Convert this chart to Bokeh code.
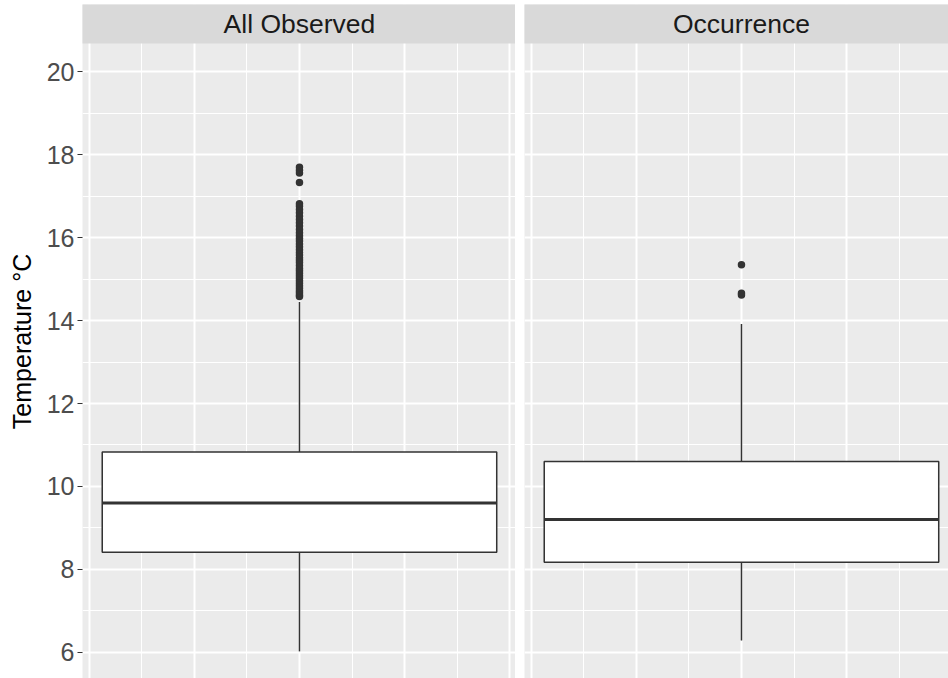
from bokeh.plotting import figure
from bokeh.layouts import row
from bokeh.models import FixedTicker, Range1d
from bokeh.embed import file_html
from bokeh.resources import INLINE
from bokeh.core.properties import value

# Five-number summaries of temperature (ºC) per facet
panels = ["All Observed", "Occurrence"]
whisker_low = [6.02, 6.28]
q1 = [8.41, 8.17]
median = [9.60, 9.20]
q3 = [10.83, 10.60]
whisker_high = [14.45, 13.92]

# Outlying observations beyond the upper whisker
outliers_all = [14.58, 14.62, 14.67, 14.72, 14.78, 14.84, 14.90, 14.96, 15.02,
                15.08, 15.14, 15.20, 15.26, 15.33, 15.40, 15.46, 15.52, 15.58,
                15.64, 15.71, 15.78, 15.85, 15.92, 15.98, 16.05, 16.12, 16.20,
                16.28, 16.36, 16.44, 16.52, 16.60, 16.68, 16.76, 16.82, 17.33,
                17.56, 17.63, 17.70]
outliers_occ = [14.62, 14.66, 15.35]
outliers = [outliers_all, outliers_occ]

y_ticks = [6, 8, 10, 12, 14, 16, 18, 20]
y_minor = [7, 9, 11, 13, 15, 17, 19]
x_ticks = [-0.4, -0.2, 0.0, 0.2, 0.4]
x_minor = [-0.3, -0.1, 0.1, 0.3]

BOX_WIDTH = 0.75
X_LO = -0.4125            # ggplot-style 5% expansion around the box
UNIT_PX = 526.0           # pixels per x unit in a panel
PANEL_TOP = 20.685        # upper y limit of the panel area
Y_LO = 5.366
STRIP_TOP = 21.626        # top of the facet strip above the panel

FONT = "Liberation Sans"
PANEL_BG = "#EBEBEB"
STRIP_BG = "#D9D9D9"
INK = "#333333"


def make_panel(i, width, border_left, frame_px, show_y):
    x_hi = X_LO + frame_px / UNIT_PX
    p = figure(width=width, height=678, output_backend="svg", toolbar_location=None,
               x_range=Range1d(X_LO, x_hi), y_range=Range1d(Y_LO, STRIP_TOP),
               min_border_left=border_left, min_border_right=0,
               min_border_top=4, min_border_bottom=0)
    p.background_fill_color = PANEL_BG
    p.border_fill_color = "white"
    p.outline_line_color = None

    p.xaxis.visible = False
    if show_y:
        ax = p.yaxis[0]
        ax.ticker = FixedTicker(ticks=y_ticks, minor_ticks=y_minor)
        ax.axis_line_color = None
        ax.major_tick_line_color = INK
        ax.major_tick_line_width = 1.2
        ax.major_tick_out = 5
        ax.major_tick_in = 0
        ax.minor_tick_out = 0
        ax.minor_tick_in = 0
        ax.major_label_standoff = 3
        ax.major_label_text_font = FONT
        ax.major_label_text_font_size = "25px"
        ax.major_label_text_color = "#4D4D4D"
        ax.axis_label = "Temperature °C"
        ax.axis_label_text_font = FONT
        ax.axis_label_text_font_size = "25px"
        ax.axis_label_text_font_style = "normal"
        ax.axis_label_text_color = "black"
        ax.axis_label_standoff = 8
    else:
        p.yaxis.visible = False

    p.ygrid.ticker = FixedTicker(ticks=y_ticks, minor_ticks=y_minor)
    p.xgrid.ticker = FixedTicker(ticks=x_ticks, minor_ticks=x_minor)
    for g in (p.xgrid[0], p.ygrid[0]):
        g.grid_line_color = "white"
        g.grid_line_width = 2
        g.minor_grid_line_color = "white"
        g.minor_grid_line_width = 1

    half = BOX_WIDTH / 2
    # whiskers
    p.segment(x0=[0, 0], y0=[q3[i], q1[i]], x1=[0, 0], y1=[whisker_high[i], whisker_low[i]],
              line_color=INK, line_width=1.5)
    # box
    p.quad(left=[-half], right=[half], bottom=[q1[i]], top=[q3[i]],
           fill_color="white", line_color=INK, line_width=1.5)
    # median
    p.segment(x0=[-half], y0=[median[i]], x1=[half], y1=[median[i]],
              line_color=INK, line_width=3)
    # outliers
    p.scatter(x=[0] * len(outliers[i]), y=outliers[i], size=7.5,
              fill_color=INK, line_color=INK, line_width=0)

    # facet strip
    p.quad(left=[-1], right=[1], bottom=[PANEL_TOP], top=[STRIP_TOP + 1],
           fill_color=STRIP_BG, line_color=None)
    p.text(x=[0], y=[(PANEL_TOP + STRIP_TOP) / 2], text=[panels[i]],
           text_align="center", text_baseline="middle",
           text_font=value(FONT), text_font_size="26.5px", text_color="#1A1A1A")
    return p


left = make_panel(0, 515, 82, 433, True)
right = make_panel(1, 433, 9, 424, False)

layout = row(left, right, spacing=0)
open("out.html", "w").write(file_html(layout, INLINE))
